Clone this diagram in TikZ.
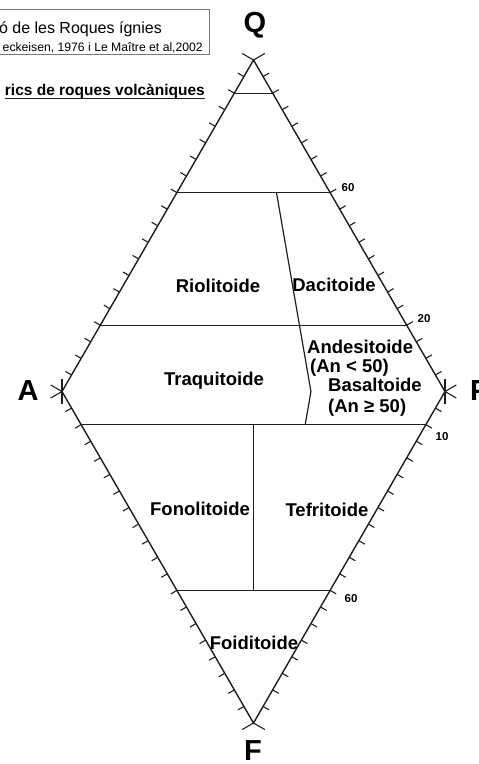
\documentclass[tikz,border=0pt]{standalone}
\usepackage{fontspec}
\setmainfont{Liberation Sans}
\usetikzlibrary{calc}
\definecolor{dInk}{RGB}{30,30,30}
\definecolor{dBox}{RGB}{120,120,120}
\tikzset{
  edge/.style={draw=dInk, line width=1.4pt, line cap=round},
  zone/.style={draw=dInk, line width=1.2pt},
  tick/.style={draw=dInk, line width=1.1pt},
  vtx/.style={font=\fontsize{29}{29}\selectfont\bfseries, inner sep=0pt},
  fld/.style={font=\fontsize{18.5}{20}\selectfont\bfseries, inner sep=0pt, anchor=base},
  num/.style={font=\fontsize{11.5}{12}\selectfont\bfseries, inner sep=0pt},
  hdr/.style={inner sep=0pt, anchor=base east},
}
\begin{document}
\begin{tikzpicture}[x=1pt, y=-1pt]
  \useasboundingbox (0,0) rectangle (479,764);
  % corners of the double triangle
  \coordinate (Q) at (253.5,60);
  \coordinate (A) at (62,391.5);
  \coordinate (P) at (445,391.5);
  \coordinate (F) at (253.5,723);
  % header
  \draw[dBox, line width=0.8pt] (-5,9) rectangle (209,54);
  \node[hdr, font=\fontsize{16}{17}\selectfont] (tit) at (162,33) {ó de les Roques ígnies};
  \node[hdr, font=\fontsize{12.2}{13}\selectfont] (src) at (203,51) {eckeisen, 1976 i Le Maître et al,2002};
  \node[hdr, font=\fontsize{15.5}{16}\selectfont\bfseries] (sub) at (205,95) {rics de roques volcàniques};
  \draw[dInk, line width=1pt] ([yshift=-3pt]sub.base west) -- ([yshift=-3pt]sub.base east);
  % vertex letters
  \node[vtx] (lQ) at (255,25) {Q};
  \node[vtx] (lA) at (28,391) {A};
  \node[vtx, anchor=west] (lP) at (470,391) {P};
  \node[vtx] (lF) at (253,751) {F};
  % field boundaries
  \coordinate (q90a) at ($(Q)!0.1!(A)$);  \coordinate (q90p) at ($(Q)!0.1!(P)$);
  \coordinate (q60a) at ($(Q)!0.4!(A)$);  \coordinate (q60p) at ($(Q)!0.4!(P)$);
  \coordinate (q20a) at ($(Q)!0.8!(A)$);  \coordinate (q20p) at ($(Q)!0.8!(P)$);
  \coordinate (f10a) at ($(F)!0.9!(A)$);  \coordinate (f10p) at ($(F)!0.9!(P)$);
  \coordinate (f60a) at ($(F)!0.4!(A)$);  \coordinate (f60p) at ($(F)!0.4!(P)$);
  \draw[zone] (q90a) -- (q90p);
  \draw[zone] (q60a) -- (q60p);
  \draw[zone] (q20a) -- (q20p);
  \draw[zone] (f10a) -- (f10p);
  \draw[zone] (f60a) -- (f60p);
  \coordinate (d1) at ($(q60a)!0.65!(q60p)$);
  \coordinate (d2) at ($(A)!0.65!(P)$);
  \coordinate (d3) at ($(f10a)!0.65!(f10p)$);
  \draw[zone] (d1) -- (d2) -- (d3);
  \draw[zone] ($(f10a)!0.5!(f10p)$) -- ($(f60a)!0.5!(f60p)$);
  % outline with ticks every 5 %
  \draw[edge] (Q) -- (P) -- (F) -- (A) -- cycle;
  \foreach \a/\b in {Q/P, P/F, F/A, A/Q}
    \foreach \k in {1,...,19} {
      \coordinate (t) at ($(\a)!\k/20!(\b)$);
      \draw[tick] (t) -- ($(t)!7pt!90:(\b)$);
    }
  \foreach \v/\n/\r in {Q/P/A, P/F/Q, F/A/P, A/Q/F} {
    \draw[tick] (\v) -- ($(\v)!13pt!90:(\n)$);
    \draw[tick] (\v) -- ($(\v)!13pt!-90:(\r)$);
  }
  \draw[tick] ($(A)+(0,-12.5)$) -- ($(A)+(0,12.5)$);
  \draw[tick] ($(P)+(0,-12.5)$) -- ($(P)+(0,12.5)$);
  % scale numbers
  \node[num] (n60q) at (348,188) {60};
  \node[num] (n20q) at (424,319) {20};
  \node[num] (n10f) at (442,437) {10};
  \node[num] (n60f) at (351,599) {60};
  % field names
  \node[fld] (rio) at (218,292) {Riolitoide};
  \node[fld] (dac) at (334,291) {Dacitoide};
  \node[fld] (tra) at (214,385) {Traquitoide};
  \node[fld, anchor=base west] (and) at (307,353) {Andesitoide};
  \node[fld, anchor=base west] (and2) at (310,372) {(An < 50)};
  \node[fld, anchor=base west] (bas) at (328,391) {Basaltoide};
  \node[fld, anchor=base west] (bas2) at (328,412) {(An ≥ 50)};
  \node[fld] (fon) at (200,515) {Fonolitoide};
  \node[fld] (tef) at (327,516) {Tefritoide};
  \node[fld] (foi) at (254,649) {Foiditoide};
\end{tikzpicture}
\end{document}
